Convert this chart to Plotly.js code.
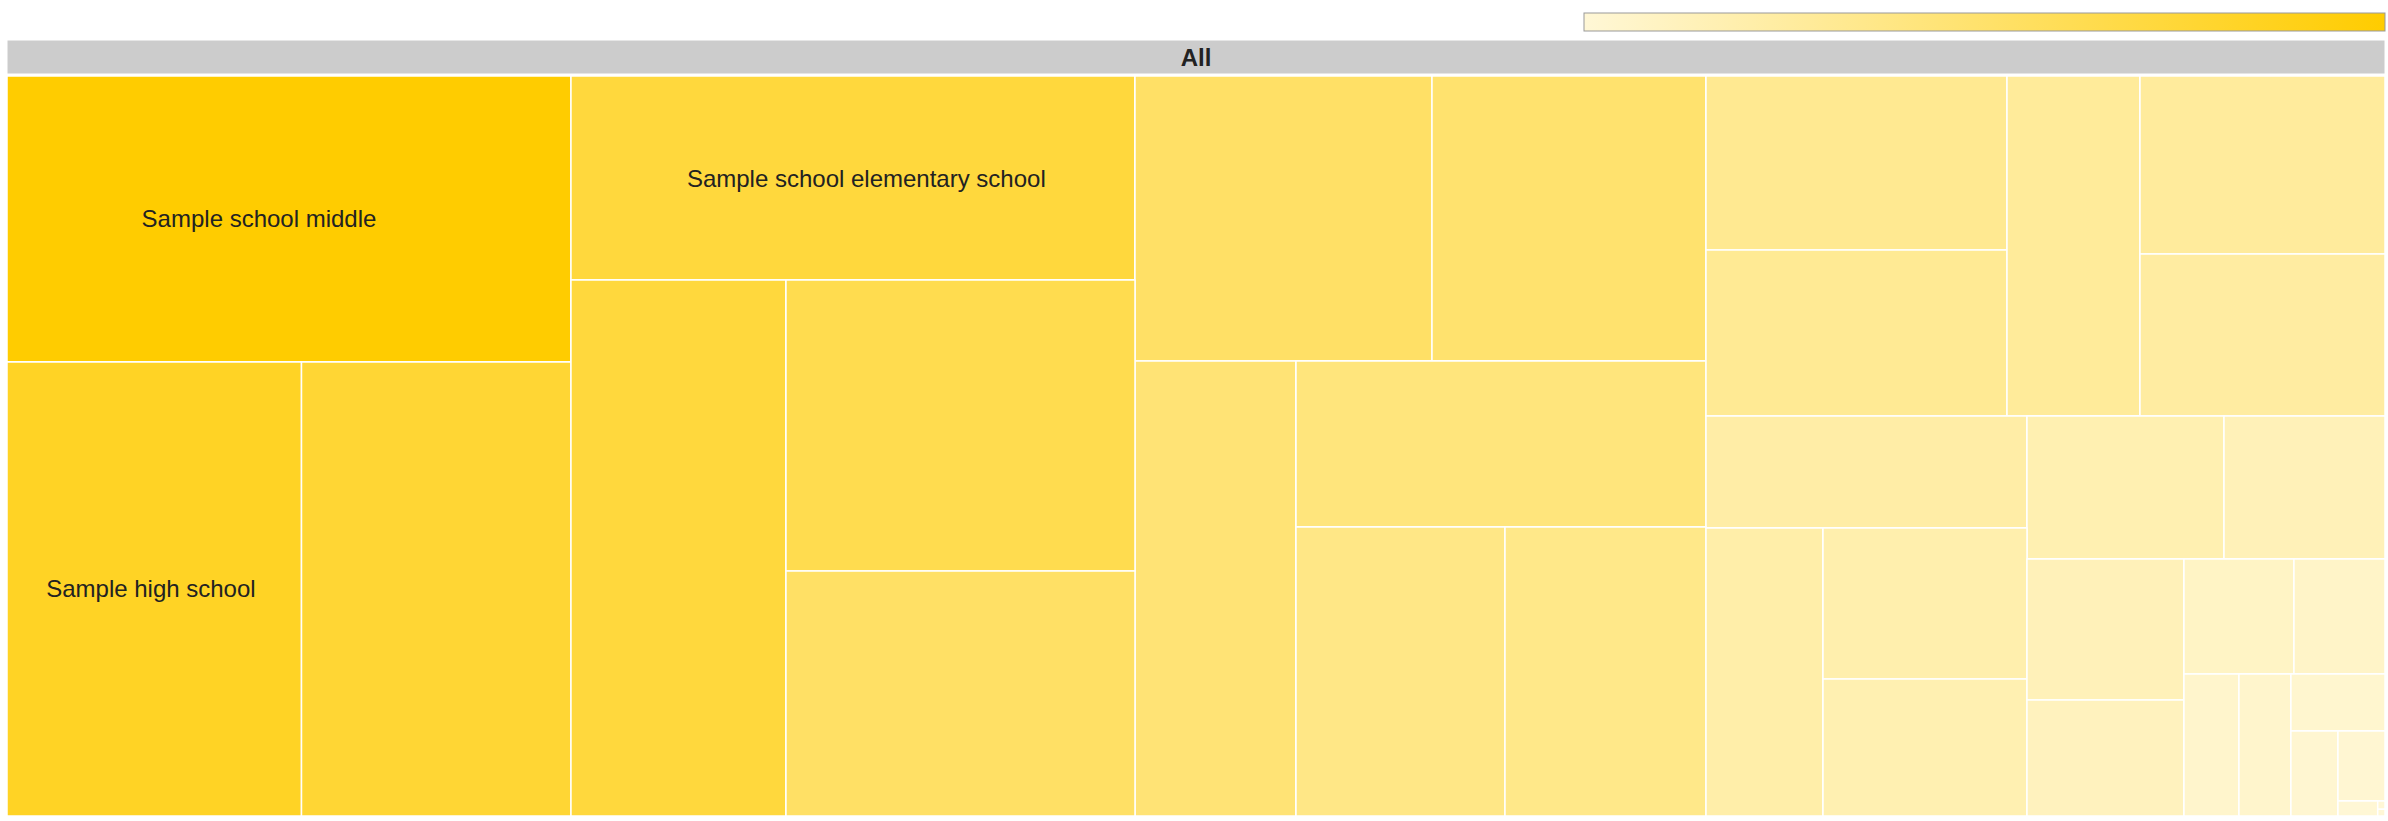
<!DOCTYPE html>
<html>
<head>
<meta charset="utf-8">
<script src="https://cdn.plot.ly/plotly-3.0.1.min.js"></script>
<style>
  html, body { margin: 0; padding: 0; background: #ffffff; }
  #chart { width: 2388px; height: 821px; }
</style>
</head>
<body>
<div id="chart"></div>
<script>
// ---- data ----
// node ids in drawing order (schools "sNN" nested inside layout groups "g...")
const nodeIds = ['All',
  'gAB', 'gA', 's01', 'gA2', 's02', 's03',
  'gB', 's04', 'gB2', 's05', 'gB3', 's06', 's07',
  'gCD', 'gC', 'gC1', 's08', 's09', 'gC2', 's10', 'gC3', 's11', 'gC4', 's12', 's13',
  'gD', 'gD1', 'gD1a', 's14', 's15', 'gD1b', 's16', 'gD1c', 's17', 's18',
  'gD2', 'gD2L', 's19', 'gD2L2', 's20', 'gD2L3', 's21', 's22',
  'gD2R', 'gR1', 's23', 's24', 'gR2', 'gR3', 's25', 's26', 'gR4', 'gR5', 's27', 's28',
  'gR6', 's29', 'gR7', 's30', 'gX', 's31', 'gX2', 's32', 'gX3', 's33', 'gX4', 's34', 'gX5', 's35', 's36'];

const nodeParents = ['',
  'All', 'gAB', 'gA', 'gA', 'gA2', 'gA2',
  'gAB', 'gB', 'gB', 'gB2', 'gB2', 'gB3', 'gB3',
  'All', 'gCD', 'gC', 'gC1', 'gC1', 'gC', 'gC2', 'gC2', 'gC3', 'gC3', 'gC4', 'gC4',
  'gCD', 'gD', 'gD1', 'gD1a', 'gD1a', 'gD1', 'gD1b', 'gD1b', 'gD1c', 'gD1c',
  'gD', 'gD2', 'gD2L', 'gD2L', 'gD2L2', 'gD2L2', 'gD2L3', 'gD2L3',
  'gD2', 'gD2R', 'gR1', 'gR1', 'gD2R', 'gR2', 'gR3', 'gR3', 'gR2', 'gR4', 'gR5', 'gR5',
  'gR4', 'gR6', 'gR6', 'gR7', 'gR7', 'gX', 'gX', 'gX2', 'gX2', 'gX3', 'gX3', 'gX4', 'gX4', 'gX5', 'gX5'];

// school values (the root and the grouping nodes carry none)
const schoolValues = {
  s01: 16130, s02: 13370, s03: 12235, s04: 11506, s05: 11524, s06: 10156, s07: 8551,
  s08: 8465, s09: 7809, s10: 7326, s11: 6806, s12: 6040, s13: 5809,
  s14: 5237, s15: 4997, s16: 4522, s17: 4361, s18: 3969,
  s19: 3595, s20: 3370, s21: 3080, s22: 2795, s23: 2817, s24: 2302, s25: 2214, s26: 1821,
  s27: 1265, s28: 1047, s29: 781, s30: 738, s31: 536, s32: 400, s33: 329, s34: 60, s35: 6, s36: 5
};

// names shown on the tiles
const schoolNames = {
  s01: 'Sample school middle',
  s02: 'Sample high school',
  s04: 'Sample school elementary school'
};

const rootLabel = 'All';

// ---- styling: horizontal nudges of the tile labels (in non-breaking spaces) ----
const labelNudge = { s01: { lead: 0, trail: 9 }, s02: { lead: 0, trail: 1 }, s04: { lead: 4, trail: 0 } };
const NBSP = '\u00A0';

// ---- build trace arrays ----
const values = nodeIds.map(id => schoolValues[id] !== undefined ? schoolValues[id] : 0);
const colors = nodeIds.map(id => schoolValues[id] !== undefined ? schoolValues[id] : null);
const labels = nodeIds.map(id => id === 'All' ? rootLabel : (schoolNames[id] || id));
const texts = nodeIds.map(id => {
  if (!schoolNames[id]) return '';
  const n = labelNudge[id] || { lead: 0, trail: 0 };
  return NBSP.repeat(n.lead) + schoolNames[id] + NBSP.repeat(n.trail);
});
const leafVals = Object.values(schoolValues);
const cmin = Math.min.apply(null, leafVals);
const cmax = Math.max.apply(null, leafVals);

const FONT = 'Arial, "Liberation Sans", sans-serif';

const main = {
  type: 'treemap',
  ids: nodeIds,
  labels: labels,
  parents: nodeParents,
  values: values,
  text: texts,
  textinfo: 'text',
  branchvalues: 'remainder',
  sort: false,
  tiling: { packing: 'binary', pad: 0 },
  textposition: 'middle center',
  textfont: { family: FONT, size: 24, color: '#222222' },
  marker: {
    colors: colors,
    colorscale: [[0, '#FFF7D6'], [1, '#FFCC00']],
    cmin: cmin,
    cmax: cmax,
    showscale: true,
    pad: { t: 0, l: 0, r: 0, b: 0 },
    line: { width: 1.5, color: '#ffffff' },
    colorbar: {
      orientation: 'h',
      x: 1, xanchor: 'right',
      y: 1, yanchor: 'bottom',
      len: 0.337, lenmode: 'fraction',
      thickness: 18,
      xpad: 0, ypad: 8,
      outlinewidth: 1, outlinecolor: '#999999',
      showticklabels: false, ticks: ''
    }
  },
  pathbar: { visible: false },
  domain: { x: [0, 1], y: [0, 740 / 776] },
  hoverinfo: 'label+value'
};

const header = {
  type: 'treemap',
  labels: [rootLabel],
  parents: [''],
  texttemplate: '<b>%{label}</b>',
  textposition: 'middle center',
  textfont: { family: FONT, size: 24, color: '#222222' },
  marker: { colors: ['#CCCCCC'], line: { width: 1, color: '#ffffff' } },
  pathbar: { visible: false },
  domain: { x: [0, 1], y: [742 / 776, 1] },
  hoverinfo: 'skip'
};

const layout = {
  width: 2388,
  height: 821,
  margin: { l: 7, r: 3, t: 40, b: 5, pad: 0, autoexpand: false },
  paper_bgcolor: '#ffffff',
  font: { family: FONT, size: 12, color: '#222222' },
  showlegend: false
};

Plotly.newPlot('chart', [main, header], layout, { displayModeBar: false, responsive: false });
</script>
</body>
</html>
